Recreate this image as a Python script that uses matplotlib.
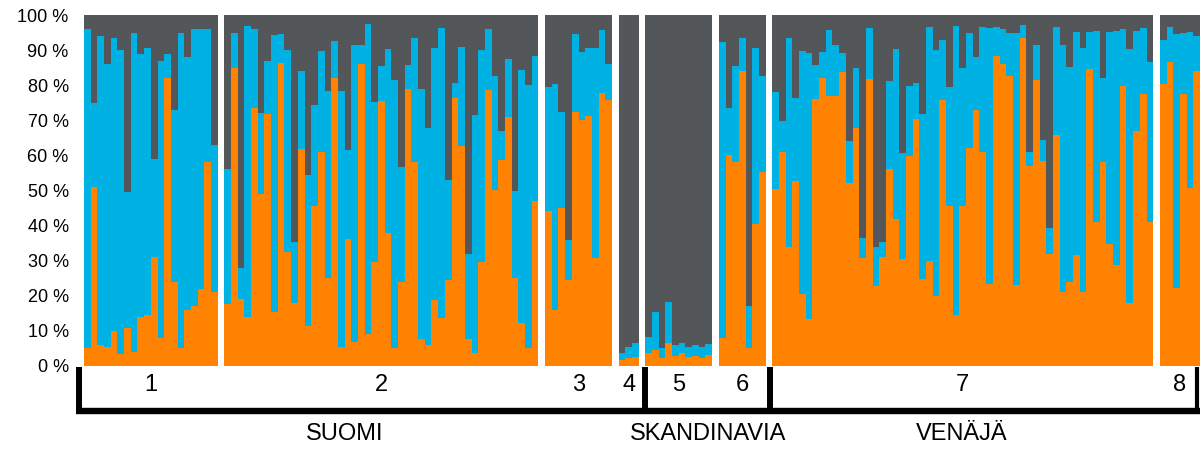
import numpy as np
import matplotlib
matplotlib.use("Agg")
import matplotlib.pyplot as plt

plt.rcParams['font.family'] = ['Liberation Sans Narrow', 'Liberation Sans', 'DejaVu Sans']

## ancestry shares (%) per individual
## orange = first component, blue = second, the rest (dark grey) fills to 100
g1_orange = [5, 51, 6, 5.5, 10, 3.3, 10.7, 4, 14, 14.5, 31, 8, 82, 24, 5, 16, 17, 22, 58, 21]
g1_blue = [91, 24, 88, 80.5, 83.4, 86.7, 39, 91, 75, 76, 28, 79, 7, 49, 90, 72, 79, 74, 38, 42]

g2_orange = [17.6, 84.8, 19, 14, 73.4, 49, 71.7, 15.5, 86.4, 32.6, 18, 61.8, 11.4, 45.6, 61, 25.2,
             82, 5.5, 36.2, 6.7, 86, 9, 29.7, 75.6, 37.8, 5.2, 24, 79, 58, 7.6, 6, 18.8, 13.8, 24.5,
             76.5, 62.7, 7.6, 3.6, 29.7, 78.6, 50.1, 58.7, 71, 25, 12.2, 5.2, 47]
g2_blue = [38.4, 10, 8.8, 83, 22.6, 23, 15.3, 78.8, 8.1, 57.4, 17.4, 22.2, 43, 28.8, 28.8, 53.2,
           10.6, 72.8, 25.3, 84.8, 5.5, 88.6, 45.6, 9.9, 52.4, 76.3, 32.6, 6.8, 35.4, 71.4, 61.7, 71.9,
           82.4, 28.5, 4.2, 28.3, 24.2, 67.9, 60.3, 17.4, 32.5, 8.3, 16.4, 25, 72.1, 75, 41.4]

g3_orange = [44.3, 16, 45, 24.5, 72.5, 70, 71.2, 30.7, 77.9, 75.8]
g3_blue = [35.3, 64.3, 27.5, 11.5, 22.1, 19.6, 19.5, 59.8, 17.8, 10.4]

g4_orange = [1.7, 2.2, 2.7]
g4_blue = [1.9, 3.3, 3.9]

g5_orange = [3.6, 4.6, 2.4, 6.6, 2.8, 3.6, 2.5, 2.8, 2.4, 3.1]
g5_blue = [4.8, 10.9, 2.8, 11.7, 3.2, 2.9, 3.0, 3.2, 2.9, 3.1]

g6_orange = [7.9, 60, 58, 84, 5, 40.5, 55.4]
g6_blue = [84.5, 13.6, 27.5, 9.6, 12, 50.2, 27.3]

g7_orange = [50.3, 61, 34, 52.8, 20.4, 13.3, 76, 82, 77, 77, 83.7, 52.2, 67.7, 30.7, 81.8, 22.8,
             31, 56, 41.9, 30.4, 59.8, 70.3, 24.7, 30, 19.9, 75.8, 45.6, 14.5, 45.7, 62, 72.9, 61,
             23.3, 88.3, 86, 82.7, 23, 93.4, 57, 81.5, 58.5, 31.8, 65.8, 21, 23.8, 31.6, 21, 84.5,
             40.9, 58.2, 34.7, 28.8, 79.9, 17.9, 67, 77.4, 41.1]
g7_blue = [27.9, 8.8, 59.4, 23.6, 69.4, 76, 9.8, 7.6, 18.7, 14.6, 5.6, 11.9, 17.1, 5.7, 14.4, 11,
           4.4, 25.2, 48.3, 30.2, 20.1, 10.4, 47, 66.7, 70.1, 17.2, 34, 82.5, 39.3, 33, 15.2, 35.5,
           73.1, 8.4, 10, 12.1, 71.8, 3.9, 4, 10, 5.9, 7.4, 30.9, 70.6, 61.5, 63.7, 69.7, 10.8,
           54.6, 23.9, 60.6, 66.7, 16.1, 72.3, 28.4, 18.8, 45.4]

g8_orange = [80.3, 86.5, 22.3, 77.4, 50.8, 84]
g8_blue = [12.7, 10.2, 72.2, 17.4, 44.5, 10]

group_names = ['1', '2', '3', '4', '5', '6', '7', '8']
oranges = [g1_orange, g2_orange, g3_orange, g4_orange, g5_orange, g6_orange, g7_orange, g8_orange]
blues = [g1_blue, g2_blue, g3_blue, g4_blue, g5_blue, g6_blue, g7_blue, g8_blue]

regions = ['SUOMI', 'SKANDINAVIA', 'VENÄJÄ']

c_orange = '#FF8300'
c_blue = '#00B2E3'
c_grey = '#53575A'

fig = plt.figure(figsize=(12, 4.51), dpi=100)
ax = fig.add_axes([0.07, 0.1885, 0.93, 0.778])

## lay the groups out one after another with one empty slot between them
pos = 0
centers = []
starts = []
for orange, blue in zip(oranges, blues):
    o = np.array(orange, dtype=float)
    b = np.array(blue, dtype=float)
    x = pos + np.arange(len(o))
    ax.bar(x, o, width=1, align='edge', color=c_orange, linewidth=0)
    ax.bar(x, b, bottom=o, width=1, align='edge', color=c_blue, linewidth=0)
    ax.bar(x, 100 - o - b, bottom=o + b, width=1, align='edge', color=c_grey, linewidth=0)
    starts.append(pos)
    centers.append(pos + len(o) / 2)
    pos += len(o) + 1

total = pos - 1
ax.set_xlim(0, total)
ax.set_ylim(0, 100)
ax.set_yticks(np.arange(0, 101, 10))
ax.set_yticklabels(['%d %%' % v for v in range(0, 101, 10)], fontsize=13)
ax.tick_params(axis='y', length=0, pad=11)
ax.set_xticks([])
for s in ax.spines.values():
    s.set_visible(False)

## group numbers and the bracket below the bars
for name, cx in zip(group_names, centers):
    ax.text(cx, -5.4, name, ha='center', va='center', fontsize=17, clip_on=False)

line_y = -12.7
dividers = [-0.75, starts[4], starts[6] - 0.35, total - 0.5]
ax.plot([-1.2, total], [line_y, line_y], color='black', lw=4.6, clip_on=False,
        solid_capstyle='butt')
for i, d in enumerate(dividers):
    ax.plot([d, d], [-0.3, line_y], color='black', lw=4.3 if i < 3 else 3,
            clip_on=False, solid_capstyle='butt')

for name, rx in zip(regions, [39, 93.4, 131.4]):
    ax.text(rx, -19.3, name, ha='center', va='center', fontsize=17, clip_on=False)

fig.savefig('out.png', dpi=100)
